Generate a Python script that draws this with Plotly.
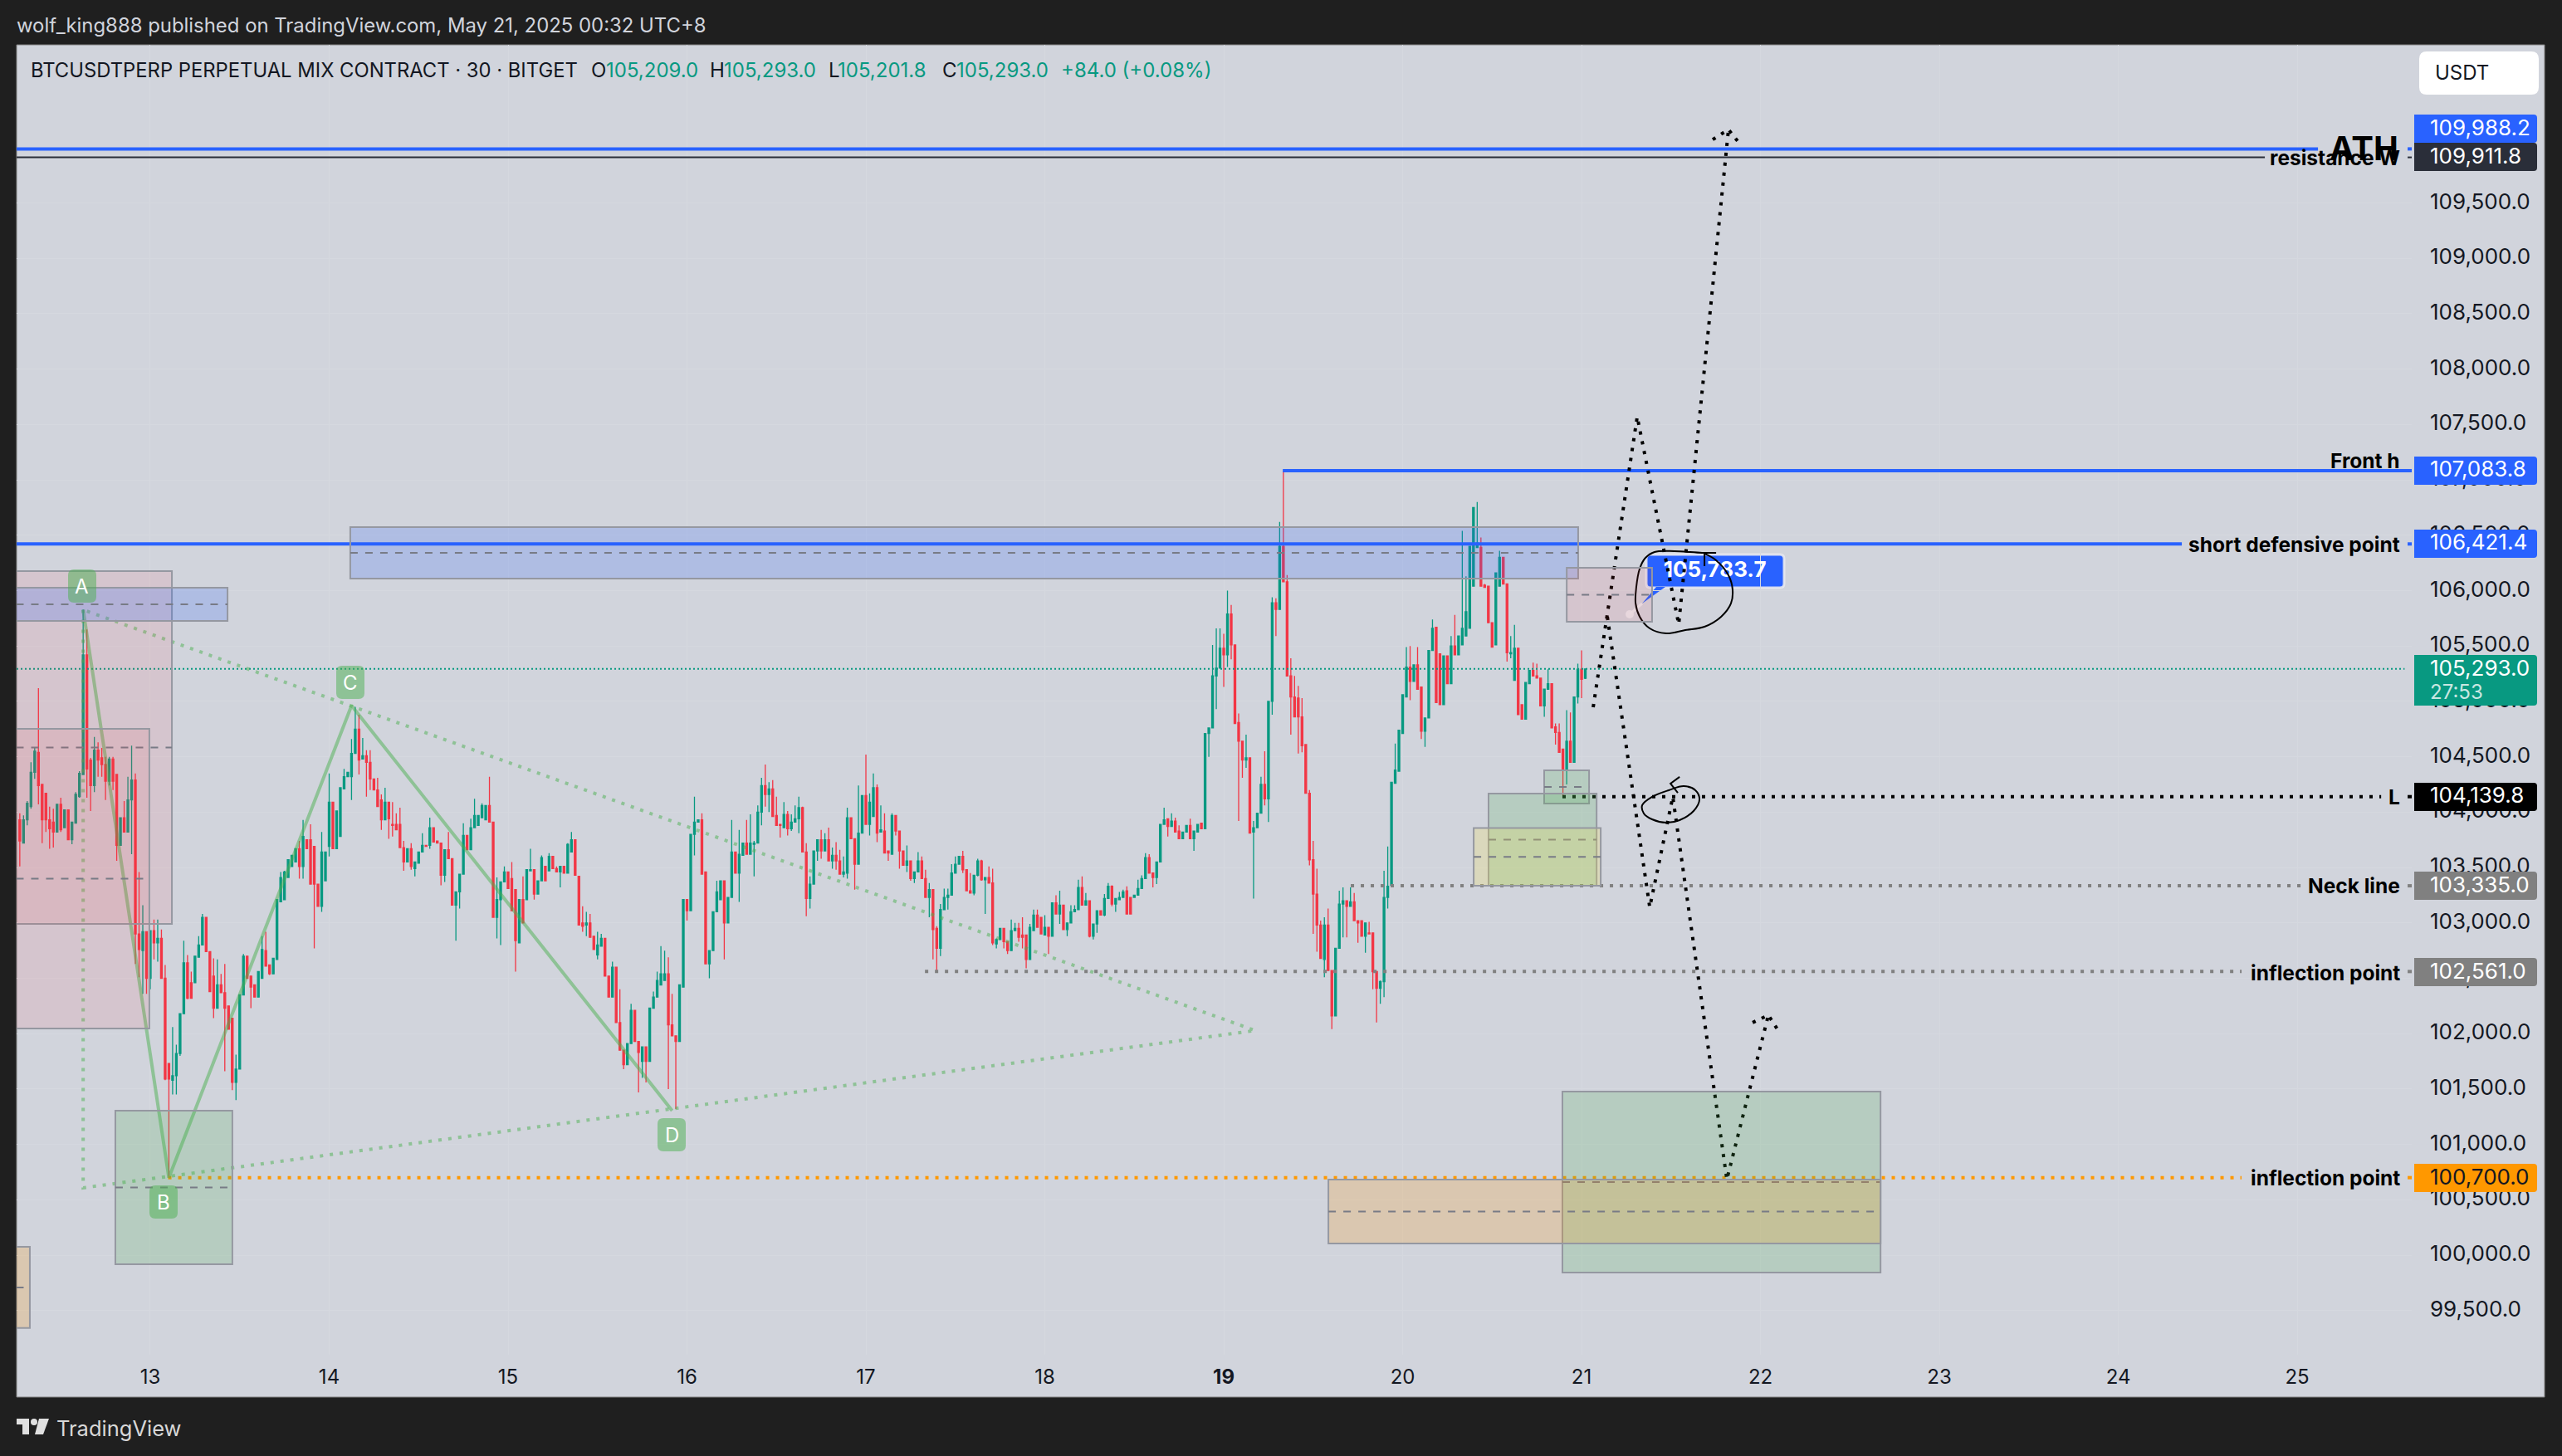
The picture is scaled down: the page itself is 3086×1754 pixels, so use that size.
import pandas as pd
import plotly.graph_objects as go

W, H = 3086, 1754

# ---------------- candles, 30 min ----------------
opens = [
103930,103720,103930,104050,104360,104540,104250,104170,103930,103910,
103820,104070,103860,104020,103750,103900,104140,104340,105420,104470,
104240,104560,104490,104430,104280,104480,104340,103700,103950,103820,
104110,104290,102900,102750,102920,102500,102930,102820,102860,102500,
101730,101580,101620,101820,102180,102640,102460,102460,102690,102800,
103050,102740,102520,102230,102440,102370,102250,102140,101560,101680,
102350,102700,102520,102440,102330,102500,102750,102620,102540,102670,
103190,103210,103410,103510,103550,103670,103510,103750,103750,103690,
103350,103150,103380,103690,104090,103670,103780,104210,104320,104320,
104530,104750,104480,104510,104450,104300,104200,104110,103930,104090,
103890,103890,103890,103680,103550,103670,103490,103540,103640,103700,
103700,103860,103740,103720,103430,103660,103580,103160,103280,103440,
103790,103660,103860,103880,103950,103930,104060,103910,103050,103210,
103370,103460,103400,103300,102820,103210,103210,103470,103480,103260,
103380,103510,103470,103600,103490,103460,103510,103450,103640,103750,
103420,103000,102980,103000,102880,102710,102790,102860,102520,102330,
102600,102100,101850,101720,101910,102210,101930,101750,101880,101750,
102230,102330,102440,102480,102540,102080,101980,101930,102420,103210,
103110,103800,103910,103930,103460,102630,102750,103100,103210,103380,
103000,103230,103640,103450,103610,
103720,
103620,103710,103720,104000,104240,
104160,104210,103970,103890,103860,103980,103850,103910,103940,104040,
103640,103220,103350,103650,103750,103650,103750,103560,103610,103560,
103440,103450,103950,103760,103530,103810,104150,103890,103960,104220,
103820,103830,103650,103620,103970,103830,103650,103520,103560,103400,
103460,103560,103400,103230,103300,102950,102770,103120,103230,103250,
103450,103530,103600,103480,103290,103270,103430,103560,103390,103410,
103360,102810,102850,102950,102830,102750,102930,102950,102890,102890,
102670,102930,103070,103050,102890,102960,102880,103180,103080,103160,
102940,103000,103100,103120,103320,103160,103200,102880,102990,103110,
103070,103220,103330,103170,103210,103230,103290,103230,103230,103250,
103310,103400,103590,103450,103410,103550,103890,103940,103870,103920,
103830,103760,103820,103880,103760,103820,103900,103850,104710,104760,
105230,105300,105480,105420,105790,105510,104810,104640,104470,104490,
103820,103860,103990,104250,104120,105000,105890,105830,106400,106080,
105230,105040,105030,104860,104610,104170,103570,103260,102980,102670,
102980,102570,102160,102770,103170,103200,103150,103190,103020,103020,
102880,102910,102910,102560,102410,102470,103230,103340,104260,104370,
104710,105040,105310,105180,105330,105130,104730,104850,105460,105670,
105430,104970,105410,105160,105500,105420,105510,105590,105660,106040,
106390,106390,106050,106040,105710,105510,106040,106300,106060,105430,
105190,105480,104970,104840,105160,105280,105230,105210,104960,105110,
105160,104770,104720,104570,104380,104640,104450,105040,105290,105209]

highs = [
103990,103970,104100,104450,104580,105120,104250,104170,104050,104030,
104070,104130,104020,104020,103910,104180,104370,105830,105650,104490,
104680,104630,104580,104500,104500,104500,104340,103950,104100,104320,
104600,104350,103460,103160,102920,102930,103030,103030,102940,102620,
101730,102060,101900,102180,102840,102710,102560,102700,102880,103080,
103050,102740,102680,102670,102540,102630,102250,102140,101810,102350,
102720,102700,102520,102440,102560,102880,102920,102620,102680,103210,
103460,103470,103570,103610,103670,103740,103930,103750,103890,103690,
103350,103820,103640,104350,104090,104010,104220,104390,104360,104660,
104950,104880,104670,104560,104560,104300,104310,104160,104220,104090,
104090,103990,104040,103740,103670,103720,103550,103640,103810,103700,
103950,103860,103740,103720,103660,103820,103580,103280,103440,103900,
103790,103940,104120,103970,104080,104060,104320,103910,103410,103370,
103510,103460,103550,103300,103210,103420,103480,103670,103480,103380,
103610,103510,103630,103600,103510,103510,103510,103720,103820,103750,
103420,103150,103100,103080,102880,102920,102900,102860,102520,102650,
102600,102400,101850,101910,102270,102210,101930,101880,101880,102230,
102380,102560,102790,102750,102690,102360,101980,102440,103210,103210,
103800,104140,103930,103990,103460,102750,103100,103380,103380,103380,
103230,103930,103640,103840,103720,
103930,
103980,103740,104060,104310,104430,
104270,104290,104140,103890,104090,104010,103980,104060,104140,104050,
103720,103420,103650,103750,103840,103810,103860,103680,103730,103660,
103600,104040,103950,103760,104240,104150,104520,104170,104350,104250,
104060,103990,103650,103990,103970,103830,103650,103700,103560,103460,
103640,103600,103480,103360,103300,102970,103170,103310,103310,103530,
103600,103600,103650,103480,103450,103430,103580,103570,103410,103510,
103490,102860,102950,102950,102830,103030,103000,103000,103050,102890,
102990,103120,103120,103050,103070,102960,103180,103250,103290,103160,
103000,103160,103160,103390,103420,103270,103200,102990,103110,103110,
103260,103360,103340,103220,103280,103300,103330,103230,103250,103390,
103430,103630,103620,103450,103550,103890,104040,103940,103990,103950,
103880,103820,103880,103940,103830,103890,103900,104710,104760,105510,
105660,105660,105610,106000,105870,105510,104890,104640,104700,104490,
103920,103990,104320,104550,105000,105940,105930,106620,107084,106140,
105390,105230,105140,105030,104610,104200,103740,103490,103020,103050,
103130,102570,102770,103290,103320,103200,103320,103270,103020,103020,
103000,103010,102910,102560,102480,103470,103690,104270,104620,104740,
105060,105490,105500,105330,105490,105130,104850,105460,105740,105670,
105430,105410,105410,105590,105780,105590,106540,106130,106400,106750,
106800,106480,106060,106040,105710,106160,106360,106300,106060,105590,
105690,105480,104970,105170,105280,105350,105340,105210,105110,105290,
105160,104800,104800,104570,104920,104900,105040,105340,105460,105293]

lows = [
103510,103720,103880,104030,104300,104070,103720,103820,103670,103680,
103820,103820,103860,103750,103710,103900,104130,104340,104130,104010,
104180,104320,104320,104110,104240,104200,103560,103700,103820,103820,
103620,102630,102510,102360,102360,102400,102670,102650,102500,101580,
100700,101450,101450,101800,102180,102310,102320,102460,102690,102800,
102740,102380,102140,102230,102370,101660,102040,101490,101400,101680,
102350,102500,102230,102330,102330,102500,102610,102530,102540,102670,
103190,103210,103410,103510,103550,103400,103400,103670,103350,102770,
103150,103100,103380,103600,103670,103670,103780,104210,104320,104110,
104530,104340,104480,104140,104200,104200,104050,103840,103930,103760,
103780,103840,103680,103470,103550,103480,103420,103540,103640,103690,
103670,103730,103720,103340,103370,103580,103160,102840,103130,103440,
103660,103660,103860,103880,103950,103930,103910,103050,102860,102800,
103370,103310,103110,102560,102820,103000,103210,103470,103210,103260,
103380,103380,103470,103490,103460,103320,103450,103450,103640,103430,
102980,102920,102880,102870,102760,102670,102790,102520,102330,102330,
102100,101850,101680,101720,101910,101930,101470,101600,101560,101750,
102230,102330,102440,102480,101500,101980,101320,101930,102420,103020,
103110,103610,103910,103440,102630,102500,102750,103100,103210,102670,
103000,103230,103450,103190,103610,
103620,
103620,103420,103720,103880,104050,
104000,103960,103880,103770,103860,103790,103830,103910,103810,103640,
103060,103130,103350,103560,103580,103650,103560,103490,103480,103440,
103410,103400,103760,103300,103530,103810,103890,103790,103960,103730,
103820,103630,103560,103620,103790,103490,103520,103460,103380,103360,
103460,103400,103230,103050,102670,102570,102700,103120,103120,103250,
103450,103530,103450,103290,103270,103250,103420,103380,103080,103360,
102800,102770,102850,102770,102720,102750,102930,102830,102770,102590,
102670,102930,102960,102900,102890,102720,102880,103080,102990,102940,
102880,103000,103100,103120,103160,103160,102870,102850,102910,103070,
103060,103220,103150,103100,103210,103230,103080,103080,103230,103250,
103310,103400,103450,103320,103350,103550,103890,103780,103870,103820,
103760,103760,103820,103760,103650,103820,103850,103850,104500,104760,
104930,105300,105130,105310,105380,104800,103920,104310,104400,103810,
103220,103860,103990,104060,103910,104880,105590,105830,106080,105230,
104700,104860,104530,104540,104170,103520,102900,102740,102680,102510,
102570,102040,102160,102770,102870,102870,103150,103020,102820,102880,
102730,102900,102400,102100,102270,102330,103130,103340,104260,104370,
104710,105040,105010,105180,105110,104660,104590,104850,105460,104990,
104970,104970,105160,105160,105420,105420,105510,105590,105660,106040,
106390,106040,106030,105710,105490,105510,106040,106060,105360,105390,
105190,104880,104840,104840,105160,105230,105210,104960,104860,105110,
104760,104610,104540,104140,104250,104450,104450,104980,105030,105201.8]

closes = [
103740,103930,104080,104360,104550,104240,103930,103930,103850,103820,
104070,103840,104020,103750,103910,104160,104350,105420,104390,104240,
104560,104470,104430,104280,104480,104280,103700,103950,103820,104110,
104290,102900,102760,102920,102500,102930,102820,102860,102500,101590,
101590,101620,101820,102180,102640,102320,102320,102700,102800,103050,
102740,102380,102230,102440,102370,102230,102040,101560,101680,102350,
102700,102500,102420,102330,102560,102760,102610,102540,102680,103210,
103410,103460,103570,103610,103670,103510,103780,103670,103350,103350,
103150,103640,103640,104090,103670,104010,104220,104320,104360,104530,
104750,104470,104510,104450,104300,104200,104050,103930,104090,103940,
103880,103840,103680,103550,103670,103510,103550,103640,103700,103690,
103860,103730,103720,103430,103660,103580,103160,103280,103440,103790,
103660,103860,103970,103970,104060,104060,103910,103050,103210,103370,
103460,103310,103110,102840,103210,103000,103480,103480,103260,103380,
103590,103380,103600,103490,103460,103510,103450,103710,103750,103430,
102980,102970,103000,102870,102760,102800,102860,102520,102330,102600,
102100,101850,101720,101910,102210,101930,101830,101880,101750,102230,
102330,102480,102540,102540,102080,101980,101930,102440,103210,103110,
103800,103910,103930,103440,102630,102750,103100,103280,103380,103000,
103230,103640,103450,103620,103720,
103620,
103720,103720,104000,104240,104160,
104210,103960,103880,103880,103980,103850,103910,103940,104040,103640,
103220,103350,103650,103750,103650,103750,103560,103610,103560,103440,
103460,103950,103760,103530,103810,104150,103890,104090,104220,103810,
103840,103630,103630,103970,103830,103650,103520,103560,103400,103460,
103560,103400,103230,103300,102940,102770,103120,103230,103250,103450,
103530,103600,103480,103290,103270,103430,103560,103390,103410,103360,
102820,102850,102950,102830,102750,102930,102950,102870,102870,102670,
102960,103070,102960,102900,102960,102880,103180,103080,103160,102940,
103000,103100,103120,103320,103160,103200,102880,102990,103110,103070,
103220,103330,103170,103220,103230,103280,103080,103080,103250,103310,
103400,103590,103450,103410,103550,103890,103930,103870,103920,103820,
103760,103820,103880,103760,103830,103890,103850,104710,104760,105230,
105300,105480,105420,105790,105510,104800,104640,104470,104490,103810,
103860,103990,104250,104120,105000,105890,105830,106400,106080,105230,
105040,104860,104860,104600,104170,103570,103260,102980,102680,102980,
102570,102160,102770,103170,103200,103150,103190,103020,103000,102880,
103000,102900,102560,102410,102470,103230,103330,104270,104380,104740,
105060,105310,105180,105330,105110,104730,104850,105460,105660,104990,
104970,105410,105160,105500,105420,105590,105660,105810,106400,106750,
106430,106040,106030,105710,105490,106160,106300,106060,105440,105440,
105480,104880,104840,105170,105280,105230,105210,104960,105110,105160,
104760,104720,104540,104380,104640,104450,105040,105290,105200,105293]

assert len(opens) == len(highs) == len(lows) == len(closes)

# ---------------- axis ----------------
day_ticks = [13, 14, 15, 16, 17, 18, 19, 20, 21, 22, 23, 24, 25]
day_text = ["13", "14", "15", "16", "17", "18", "<b>19</b>", "20", "21", "22", "23", "24", "25"]
price_ticks = [99500, 100000, 100500, 101000, 101500, 102000, 102500, 103000, 103500, 104000,
               104500, 105000, 105500, 106000, 106500, 107000, 107500, 108000, 108500, 109000, 109500]
LEFT_DAY, RIGHT_DAY = 12.253, 25.640
PRICE_MIN, PRICE_MAX = 99101, 110928

# ---------------- drawings, x given as decimal day of May 2025 ----------------
# price, from day, to day, colour, width, dash
level_price = [109988.2, 109911.8, 107083.8, 106421.4, 105293.0, 104139.8, 103335.0, 102561.0, 100700.0]
level_from = [12.253, 12.253, 19.330, 12.253, 12.253, 20.893, 19.710, 17.330, 13.100]
level_to = [25.116, 24.819, 25.640, 24.355, 25.600, 25.469, 25.023, 24.689, 24.689]
level_stub = [True, True, False, True, False, True, True, True, True]
level_color = ["#2962ff", "#2a2e39", "#2962ff", "#2962ff", "#089981", "#000000", "#808080", "#808080", "#ff9800"]
level_width = [4, 2, 4, 4, 2, 4, 4, 4, 4]
level_dash = ["solid", "solid", "solid", "solid", "2px,3px", "4px,8px", "4px,8px", "4px,8px", "4px,8px"]

# day from, day to, price top, price bottom, fill
pink = "rgba(255,60,70,0.09)"
box_from = [12.0, 12.0, 12.0, 12.805, 14.118, 20.917, 20.791, 20.480, 20.397, 20.893, 19.585, 12.0]
box_to = [13.121, 12.995, 13.432, 13.459, 20.981, 21.394, 21.042, 21.084, 21.107, 22.671, 22.671, 12.327]
box_top = [106176, 104752, 106026, 101305, 106573, 106206, 104377, 104168, 103857, 101477, 100683, 100076]
box_bottom = [102991, 102047, 105726, 99918, 106109, 105719, 104078, 103336, 103336, 99843, 100106, 99342]
box_fill = [pink, pink, "rgba(41,98,255,0.2)", "rgba(76,175,80,0.2)",
            "rgba(41,98,255,0.2)", pink, "rgba(76,175,80,0.2)", "rgba(76,175,80,0.2)",
            "rgba(255,235,59,0.2)", "rgba(76,175,80,0.2)", "rgba(255,152,0,0.2)", "rgba(255,152,0,0.2)"]

abcd_day = [12.625, 13.104, 14.125, 15.917]
abcd_price = [105827, 100700, 104962, 101305]
triangle_day = [12.625, 12.625, 19.176, 12.625]
triangle_price = [105827, 100608, 102028, 105827]

plan_up_day = [21.065, 21.311, 21.543, 21.821]
plan_up_price = [104947, 107570, 105696, 110163]
plan_up_head_day = [21.733, 21.821, 21.891]
plan_up_head_price = [110073, 110163, 110021]
plan_down_day = [21.144, 21.381, 21.510, 21.812, 22.044]
plan_down_price = [105764, 103141, 104138, 100683, 102167]
plan_down_head_day = [21.956, 22.044, 22.104]
plan_down_head_price = [102100, 102167, 102016]

ink_top_day = [21.752, 21.673, 21.520, 21.408, 21.357, 21.325, 21.306, 21.302, 21.325, 21.381,
               21.473, 21.580, 21.687, 21.780, 21.835, 21.844, 21.821, 21.752, 21.687]
ink_top_price = [106341, 106341, 106356, 106349, 106296, 106199, 106034, 105884, 105764, 105659,
                 105614, 105644, 105674, 105764, 105884, 106011, 106139, 106274, 106334]
ink_top_arrow_day = [21.687, 21.687]
ink_top_arrow_price = [106334, 106221]
ink_low_day = [21.571, 21.487, 21.394, 21.339, 21.348, 21.394, 21.473, 21.548, 21.626, 21.659, 21.636, 21.571]
ink_low_price = [104235, 104198, 104138, 104063, 103988, 103935, 103905, 103928, 104010, 104115, 104198, 104235]
ink_low_arrow_day = [21.548, 21.497, 21.538]
ink_low_arrow_price = [104318, 104258, 104175]


def day(d):
    return pd.Timestamp("2025-05-01") + pd.Timedelta(days=d - 1)


def days(ds):
    return [day(d) for d in ds]


def fx(p):
    return p / W


def fy(p):
    return 1 - p / H


def rrect(x0, y0, x1, y1, r=4, left=True):
    # rounded box, pixel corners on the page, as a paper path
    rl = r if left else 0
    pts = (f"M {fx(x0 + rl)} {fy(y0)} L {fx(x1 - r)} {fy(y0)} Q {fx(x1)} {fy(y0)} {fx(x1)} {fy(y0 + r)} "
           f"L {fx(x1)} {fy(y1 - r)} Q {fx(x1)} {fy(y1)} {fx(x1 - r)} {fy(y1)} L {fx(x0 + rl)} {fy(y1)} ")
    if rl:
        pts += f"Q {fx(x0)} {fy(y1)} {fx(x0)} {fy(y1 - r)} L {fx(x0)} {fy(y0 + r)} Q {fx(x0)} {fy(y0)} {fx(x0 + r)} {fy(y0)} "
    else:
        pts += f"L {fx(x0)} {fy(y0)} "
    return pts + "Z"


def poly(points):
    return "M " + " L ".join(f"{fx(a)} {fy(b)}" for a, b in points) + " Z"


def add_paper_shape(path, fill, layer="above", line=None, lw=0):
    fig.add_shape(type="path", path=path, xref="paper", yref="paper", fillcolor=fill, layer=layer,
                  line=dict(color=line or "rgba(0,0,0,0)", width=lw))


def add_text(px, py, text, size, color, anchor="left", font="Inter"):
    fig.add_annotation(x=fx(px), y=fy(py), xref="paper", yref="paper", text=text, showarrow=False,
                       xanchor=anchor, yanchor="middle", font=dict(size=size, color=color, family=font),
                       borderpad=0, borderwidth=0)


def add_line(xs, ys, color, width, dash="solid", shape="linear"):
    fig.add_trace(go.Scatter(x=days(xs), y=ys, mode="lines", hoverinfo="skip",
                             line=dict(color=color, width=width, dash=dash, shape=shape)))


times = pd.date_range(end="2025-05-21 00:30", periods=len(opens), freq="30min")

fig = go.Figure()
fig.add_trace(go.Candlestick(x=times, open=opens, high=highs, low=lows, close=closes,
                             whiskerwidth=0,
                             increasing=dict(line=dict(color="#089981", width=1.3), fillcolor="#089981"),
                             decreasing=dict(line=dict(color="#f23645", width=1.3), fillcolor="#f23645")))

# bubble text sits under the pen strokes
fig.add_trace(go.Scatter(x=[day(21.745)], y=[106176], mode="text", text=["<b>105,783.7</b>"], hoverinfo="skip",
                         textfont=dict(size=26, color="white", family="Inter")))

for i in range(len(level_price)):
    add_line([level_from[i], level_to[i]], [level_price[i]] * 2, level_color[i], level_width[i], level_dash[i])
    if level_stub[i]:
        add_line([25.617, RIGHT_DAY], [level_price[i]] * 2, level_color[i], level_width[i])

green_soft = "rgba(76,175,80,0.5)"
add_line(triangle_day, triangle_price, green_soft, 4, "4px,8px")
add_line(abcd_day, abcd_price, green_soft, 4)

add_line(plan_up_day, plan_up_price, "#000000", 4, "4px,8px")
add_line(plan_up_head_day, plan_up_head_price, "#000000", 4, "4px,8px")
add_line(plan_down_day, plan_down_price, "#000000", 4, "4px,8px")
add_line(plan_down_head_day, plan_down_head_price, "#000000", 4, "4px,8px")
add_line(ink_top_day, ink_top_price, "#000000", 2, shape="spline")
add_line(ink_top_arrow_day, ink_top_arrow_price, "#000000", 2)
add_line(ink_low_day, ink_low_price, "#000000", 2, shape="spline")
add_line(ink_low_arrow_day, ink_low_arrow_price, "#000000", 2)

# panel behind the chart
fig.add_shape(type="rect", xref="paper", yref="paper", x0=fx(20), x1=fx(3065), y0=fy(1683), y1=fy(54),
              fillcolor="#d1d4dc", line=dict(color="#808080", width=1), layer="below")

# zones over the candles
for i in range(len(box_top)):
    fig.add_shape(type="rect", x0=day(box_from[i]), x1=day(box_to[i]), y0=box_bottom[i], y1=box_top[i],
                  fillcolor=box_fill[i], line=dict(color="#9598a1", width=2), layer="above")
    mid = (box_top[i] + box_bottom[i]) / 2
    fig.add_shape(type="line", x0=day(box_from[i]), x1=day(box_to[i]), y0=mid, y1=mid,
                  line=dict(color="#787b86", width=2, dash="9px,9px"), layer="above")

# price bubble with its pointer
add_paper_shape(rrect(1983, 668, 2149, 708, 5), "#2962ff", "below", "rgba(232,233,238,0.9)", 3)
add_paper_shape(poly([(1995, 707), (2006, 707), (1978, 727)]), "#2962ff", "below")
fig.add_shape(type="line", xref="paper", yref="paper", x0=fx(1978), y0=fy(727), x1=fx(1963), y1=fy(740),
              line=dict(color="rgba(232,233,238,0.9)", width=3), layer="below")
fig.add_shape(type="circle", xref="paper", yref="paper", x0=fx(1958), x1=fx(1968), y0=fy(745), y1=fy(735),
              fillcolor="rgba(232,233,238,0.9)", line=dict(width=0), layer="below")

# ABCD tags
for name, cx, cy in [("A", 99, 706), ("B", 197, 1448), ("C", 422, 822), ("D", 809, 1367)]:
    add_paper_shape(rrect(cx - 17, cy - 20, cx + 17, cy + 20, 7), green_soft)
    add_text(cx, cy, name, 24, "white", "center")

# price labels on the scale
tag_text = ["109,988.2", "109,911.8", "107,083.8", "106,421.4", "104,139.8", "103,335.0", "102,561.0", "100,700.0"]
tag_color = ["#2962ff", "#2a2e39", "#2962ff", "#2962ff", "#000000", "#808080", "#808080", "#ff9800"]
tag_ink = ["white", "white", "white", "white", "white", "white", "white", "#131722"]
tag_top = [138, 172, 550, 638, 943, 1050, 1154, 1402]
for txt, col, ink, top in zip(tag_text, tag_color, tag_ink, tag_top):
    add_paper_shape(rrect(2908, top, 3056, top + 34, 4, left=False), col)
    add_text(2927, top + 15, txt, 26, ink)
add_paper_shape(rrect(2908, 789, 3056, 850, 4, left=False), "#089981")
add_text(2927, 804, "105,293.0", 26, "white")
add_text(2927, 833, "27:53", 24, "#c9e7e1")

# line names
for txt, py in [("resistance W", 190), ("Front h", 555), ("short defensive point", 656), ("L", 960),
                ("Neck line", 1067), ("inflection point", 1172), ("inflection point", 1419)]:
    add_text(2891, py, f"<b>{txt}</b>", 24.5, "#000000", "right")
add_text(2889, 179, "<b>ATH</b>", 40, "#000000", "right")

# header and legend
add_text(20, 31, "wolf_king888 published on TradingView.com, May 21, 2025 00:32 UTC+8", 23.9, "#d1d4dc")
add_text(37, 85, "BTCUSDTPERP PERPETUAL MIX CONTRACT · 30 · BITGET", 23.8, "#131722")
for letter, value, lx, vx in [("O", "105,209.0", 712, 730), ("H", "105,293.0", 855, 872),
                              ("L", "105,201.8", 998, 1009), ("C", "105,293.0", 1135, 1152)]:
    add_text(lx, 85, letter, 24, "#131722")
    add_text(vx, 85, value, 24, "#089981")
add_text(1278, 85, "+84.0 (+0.08%)", 24, "#089981")

# unit button
add_paper_shape(rrect(2914, 62, 3058, 114, 9), "#ffffff")
add_text(2933, 87, "USDT", 24, "#131722")

# footer logo
logo = "#e0e0e0"
add_paper_shape(poly([(20, 1709), (35, 1709), (35, 1728), (27, 1728), (27, 1716), (20, 1716)]), logo)
add_paper_shape(poly([(47, 1709), (59, 1709), (52, 1728), (42, 1728)]), logo)
fig.add_shape(type="circle", xref="paper", yref="paper", x0=fx(37), x1=fx(45), y0=fy(1717), y1=fy(1709),
              fillcolor=logo, line=dict(width=0), layer="above")
add_text(68, 1720, "TradingView", 25.5, "#d8d8d8")

fig.update_layout(
    width=W, height=H, showlegend=False, hovermode=False,
    margin=dict(l=0, r=0, t=0, b=0),
    paper_bgcolor="#1f1f1f", plot_bgcolor="rgba(0,0,0,0)",
    font=dict(family="Inter", color="#131722", size=24),
    boxgap=0.35,
    xaxis=dict(domain=[fx(20), fx(2905)], range=[day(LEFT_DAY), day(RIGHT_DAY)], type="date",
               rangeslider_visible=False, tickmode="array", tickvals=days(day_ticks), ticktext=day_text,
               tickfont=dict(size=24, color="#131722"), ticks="", showline=False, zeroline=False,
               gridcolor="#d5d8df", gridwidth=1, ticklabelstandoff=10),
    yaxis=dict(domain=[fy(1632), fy(54)], range=[PRICE_MIN, PRICE_MAX], side="right",
               tickmode="array", tickvals=price_ticks, ticktext=[f"{p:,.1f}" for p in price_ticks],
               tickfont=dict(size=26, color="#131722"), ticks="", showline=False, zeroline=False,
               gridcolor="#d5d8df", gridwidth=1, ticklabelstandoff=21, ticklabelshift=-2),
)

fig.write_html("out.html", config={"displayModeBar": False},
               post_script="document.body.style.margin='0';document.body.style.overflow='hidden';")
